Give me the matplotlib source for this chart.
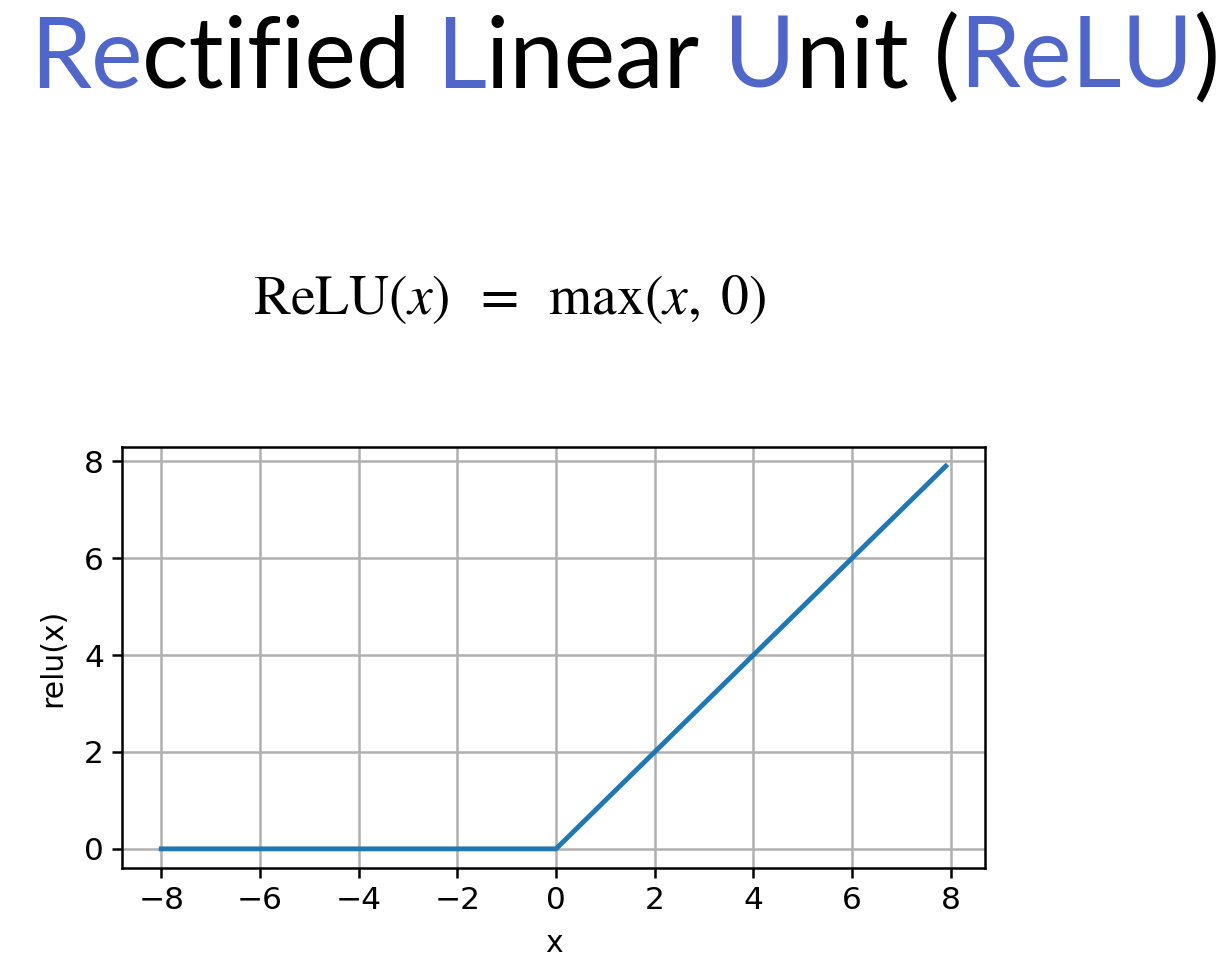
import matplotlib
import matplotlib.pyplot as plt

matplotlib.use('Agg')

# data
relu_x = [-8.0, 0.0, 7.9]
relu_y = [0.0, 0.0, 7.9]
x_ticks = [-8, -6, -4, -2, 0, 2, 4, 6, 8]
y_ticks = [0, 2, 4, 6, 8]

# title pieces: (text, coloured?)
title_parts = [('Re', True), ('ctified ', False), ('L', True), ('inear ', False),
               ('U', True), ('nit (', False), ('ReLU', True), (')', False)]
title_blue = '#5067c9'

fig = plt.figure(figsize=(12.3, 9.72), dpi=100)
renderer = fig.canvas.get_renderer()


def draw_title(size):
    x_pos = 30 / 1230
    pieces = []
    for txt, blue in title_parts:
        t = fig.text(x_pos, 1 - 88 / 972, txt, fontsize=size, family='Lato',
                     color=title_blue if blue else 'black', va='baseline', ha='left')
        bb = t.get_window_extent(renderer)
        x_pos += bb.width / fig.bbox.width
        pieces.append(t)
    return pieces, x_pos * 1230 - 30


def tick_text(v):
    return str(v).replace('-', '\u2212')


'''Title, drawn piece by piece, then fitted to the width of the reference'''
pieces, width = draw_title(80)
for p in pieces:
    p.remove()
draw_title(80 * 1190 / width)

'''Formula'''
plt.rcParams['mathtext.fontset'] = 'stix'
fig.text(510 / 1230, 1 - 314 / 972,
         r'$\mathrm{ReLU}(x)\;\;=\;\;\mathrm{max}(x,\;0)$',
         fontsize=40, ha='center', va='baseline')

'''Plot'''
ax = fig.add_axes([122 / 1230, 1 - 868 / 972, 863 / 1230, 421 / 972])
ax.plot(relu_x, relu_y, color='#1f77b4', linewidth=3.5)
ax.set_xticks(x_ticks, labels=[tick_text(v) for v in x_ticks],
              fontsize=22.5, family='DejaVu Sans')
ax.set_yticks(y_ticks, labels=[tick_text(v) for v in y_ticks],
              fontsize=22.5, family='DejaVu Sans')
ax.grid(True, color='#b0b0b0', linewidth=1.8)
ax.tick_params(width=1.8, length=7, pad=6)
for sp in ax.spines.values():
    sp.set_linewidth(1.8)
ax.set_xlabel('x', fontsize=21.5, labelpad=10)
ax.set_ylabel('relu(x)', fontsize=21.5, labelpad=12)

plt.savefig('out.png', dpi=100)
